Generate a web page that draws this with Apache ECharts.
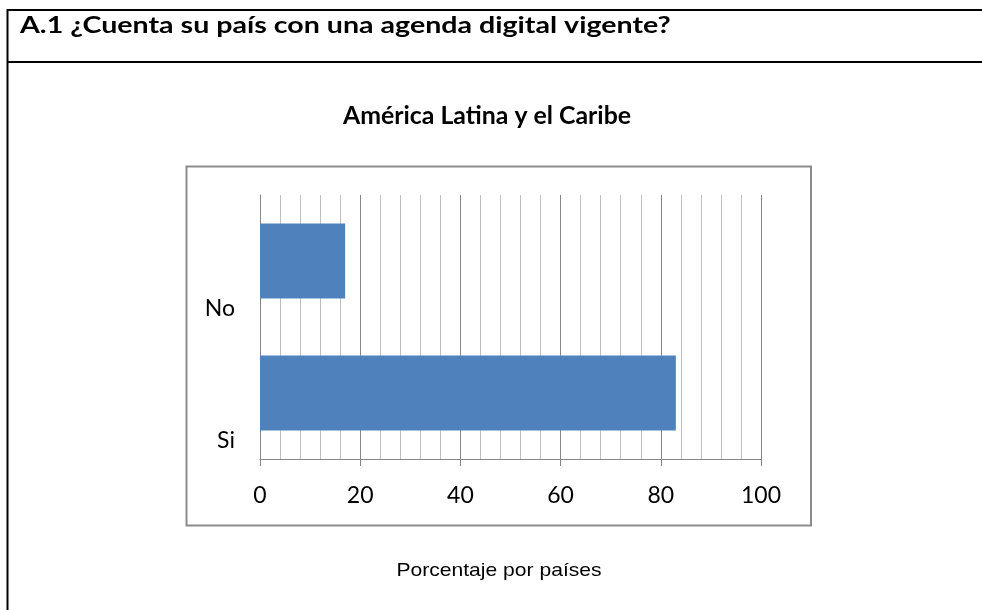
<!DOCTYPE html>
<html>
<head>
<meta charset="utf-8">
<title>A.1 agenda digital</title>
<script src="https://cdn.jsdelivr.net/npm/echarts@6/dist/echarts.min.js"></script>
<style>
  html, body { margin: 0; padding: 0; background: #fff; }
  #chart { width: 982px; height: 610px; }
</style>
</head>
<body>
<div id="chart"></div>
<script>
// datos
const categories = ['Si', 'No']
const values = [83, 17]
const xTicks = [0, 20, 40, 60, 80, 100]

const headerText = 'A.1 ¿Cuenta su país con una agenda digital vigente?'
const chartTitle = 'América Latina y el Caribe'
const footText = 'Porcentaje por países'

const myChart = echarts.init(document.getElementById('chart'))

const option = {
  backgroundColor: '#fff',
  animation: false,
  grid: { left: 260, right: 221, top: 195, bottom: 151 },
  xAxis: {
    type: 'value',
    min: xTicks[0],
    max: xTicks[xTicks.length - 1],
    interval: xTicks[1] - xTicks[0],
    axisLine: { show: true, lineStyle: { color: '#868686', width: 1 } },
    axisTick: { show: true, length: 7, lineStyle: { color: '#868686' } },
    axisLabel: { color: '#000', fontFamily: 'Lato', fontSize: 23, margin: 25 },
    splitLine: { show: true, lineStyle: { color: '#868686', width: 1 } },
    minorTick: { show: false, splitNumber: 5 },
    minorSplitLine: { show: true, lineStyle: { color: '#bfbfbf', width: 1 } }
  },
  yAxis: {
    type: 'category',
    data: categories,
    axisLine: { show: true, lineStyle: { color: '#868686', width: 1 } },
    axisTick: { show: false },
    axisLabel: {
      interval: 0,
      hideOverlap: false,
      color: '#000',
      fontFamily: 'Lato',
      fontSize: 23,
      margin: 25,
      // Excel dibuja las etiquetas por debajo del centro de la barra
      lineHeight: 96,
      formatter: (v) => '\n' + v
    }
  },
  series: [
    {
      type: 'bar',
      data: values,
      barCategoryGap: '43%',
      itemStyle: { color: '#4f81bd' }
    }
  ],
  graphic: [
    // marco de la tabla
    { type: 'line', shape: { x1: 7, y1: 10, x2: 982, y2: 10 }, style: { stroke: '#000', lineWidth: 2 } },
    { type: 'line', shape: { x1: 7.5, y1: 9, x2: 7.5, y2: 610 }, style: { stroke: '#000', lineWidth: 2 } },
    { type: 'line', shape: { x1: 7, y1: 62, x2: 982, y2: 62 }, style: { stroke: '#000', lineWidth: 2 } },
    // borde del área del gráfico
    { type: 'rect', shape: { x: 186.5, y: 166.5, width: 624.5, height: 359 }, style: { fill: null, stroke: '#8c8c8c', lineWidth: 2 } },
    {
      type: 'text', x: 20, y: 26, scaleX: 1.3,
      style: { text: headerText, fontFamily: 'Lato', fontWeight: 'bold', fontSize: 22, fill: '#000', verticalAlign: 'middle' }
    },
    {
      type: 'text', x: 487, y: 116, scaleX: 1.035,
      style: { text: chartTitle, fontFamily: 'Lato', fontWeight: 'bold', fontSize: 24, fill: '#000', align: 'center', verticalAlign: 'middle' }
    },
    {
      type: 'text', x: 499, y: 571, scaleX: 1.11,
      style: { text: footText, fontFamily: 'Liberation Sans', fontSize: 19, fill: '#000', align: 'center', verticalAlign: 'middle' }
    }
  ]
}

myChart.setOption(option)
</script>
</body>
</html>
